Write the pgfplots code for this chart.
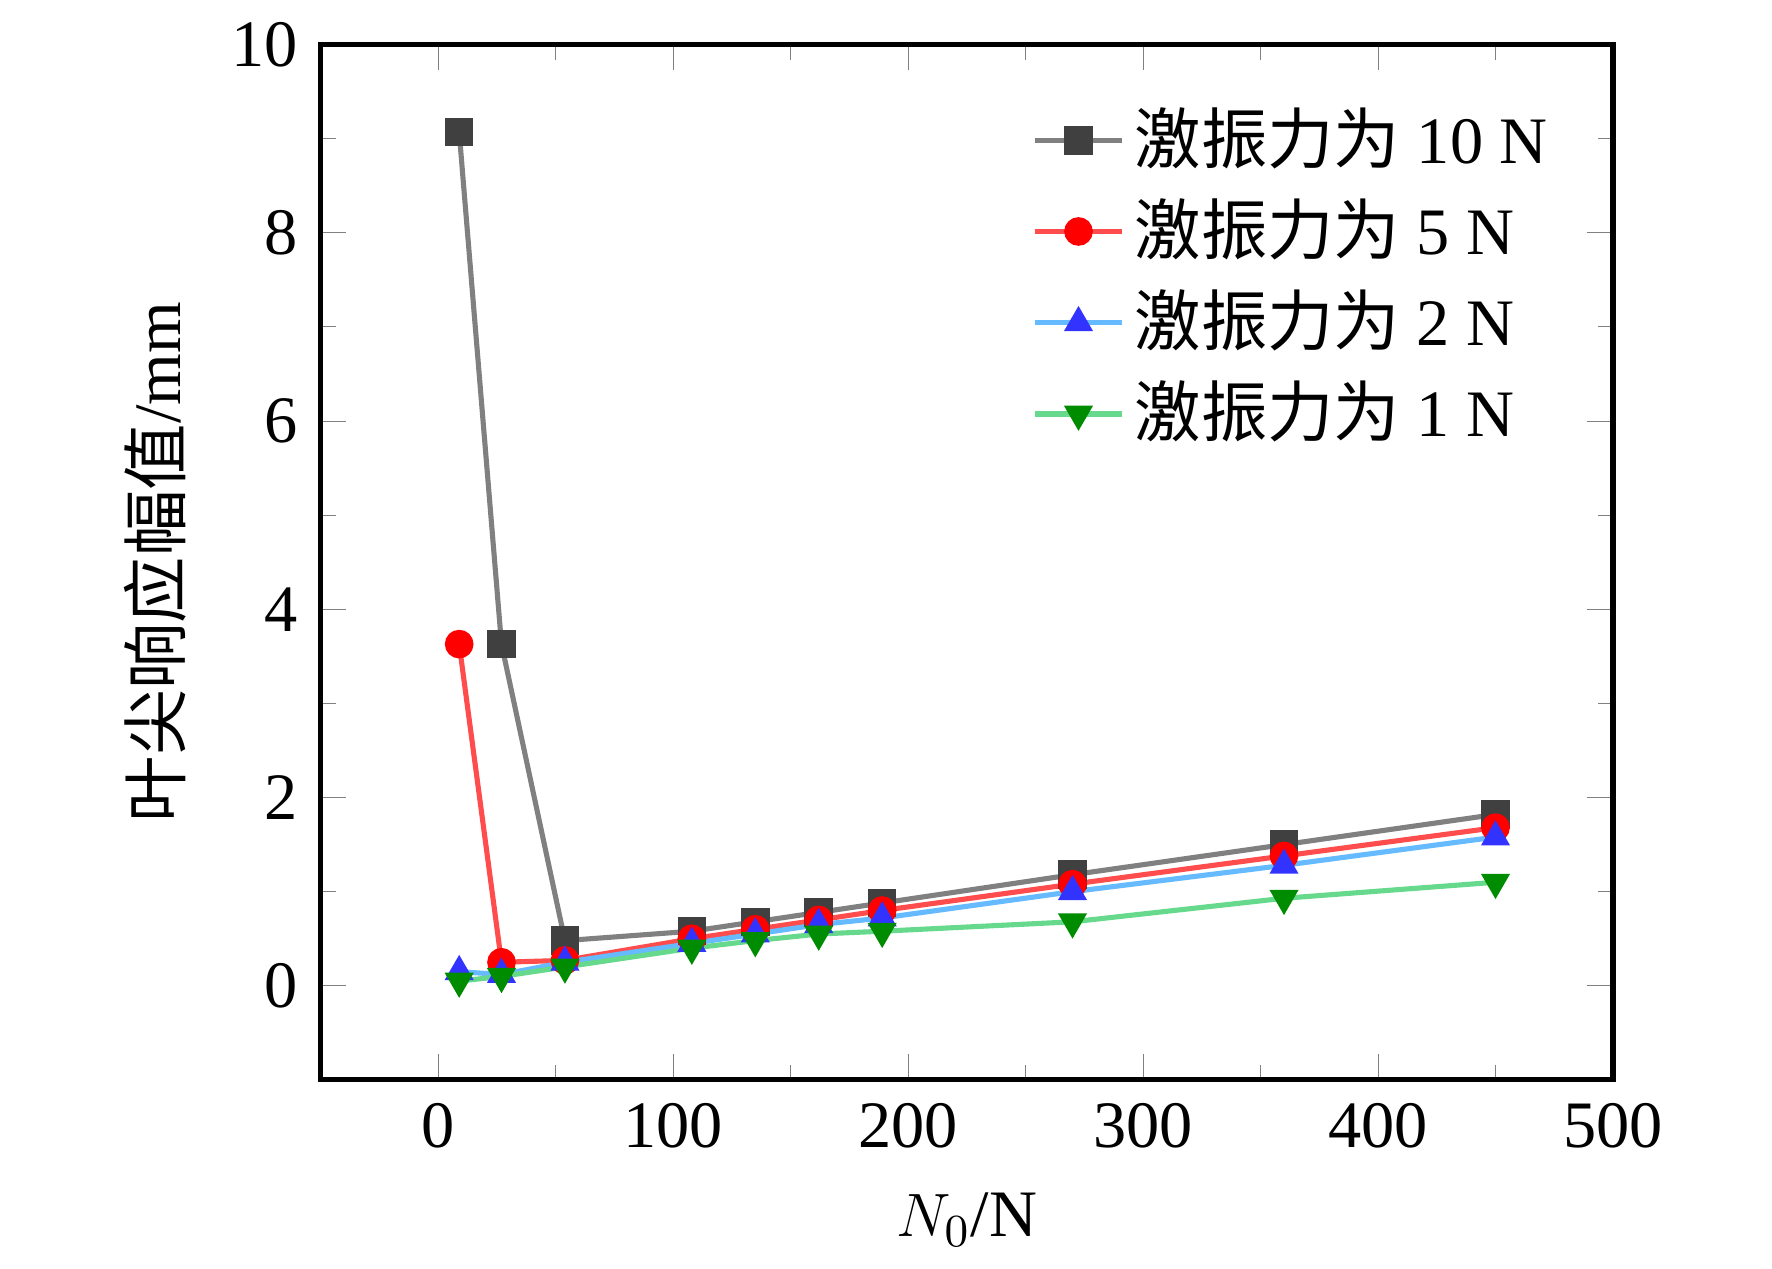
\documentclass[border=0pt]{standalone}
\usepackage{pgfplots}
\pgfplotsset{compat=1.18}
\usepackage{fontspec}
\setmainfont{Liberation Serif}
\newfontfamily\cjk{Noto Sans CJK SC}
\begin{document}
\fontsize{13}{15}\selectfont
\begin{tikzpicture}
\begin{axis}[
  width=8.9cm, height=7.13cm, scale only axis,
  xmin=-50, xmax=500, ymin=-1, ymax=10,
  xtick={0,100,...,500}, minor xtick={50,150,...,450},
  ytick={0,2,...,10}, minor ytick={1,3,...,9},
  tick align=inside, axis line style={line width=1pt},
  major tick length=5pt, minor tick length=3pt,
  /pgf/number format/assume math mode=true,
  tick label style={font=\fontsize{13}{15}\selectfont},
  xlabel={$N_0$/N}, ylabel={\cjk 叶尖响应幅值\rmfamily/mm},
  legend style={draw=none, at={(0.97,0.96)}, anchor=north east, font=\fontsize{13}{15}\selectfont, row sep=1pt},
  legend cell align=left,
  every axis plot/.append style={line width=1pt, mark size=2.3pt},
]
\addplot[color=gray, mark=square*, mark options={fill=black!75, draw=black!75}] coordinates {(9,9.07)(27,3.63)(54,0.48)(108,0.58)(135,0.68)(162,0.78)(189,0.88)(270,1.18)(360,1.50)(450,1.82)};
\addlegendentry{{\cjk 激振力为} 10 N}
\addplot[color=red!70, mark=*, mark options={fill=red, draw=red}] coordinates {(9,3.63)(27,0.25)(54,0.27)(108,0.5)(135,0.6)(162,0.7)(189,0.8)(270,1.08)(360,1.38)(450,1.68)};
\addlegendentry{{\cjk 激振力为} 5 N}
\addplot[color=blue!45!cyan!60, mark=triangle*, mark options={fill=blue!80, draw=blue!80}] coordinates {(9,0.15)(27,0.12)(54,0.25)(108,0.45)(135,0.55)(162,0.65)(189,0.72)(270,1.0)(360,1.28)(450,1.58)};
\addlegendentry{{\cjk 激振力为} 2 N}
\addplot[color=green!50!teal!60, mark=triangle*, mark options={rotate=180, fill=green!55!black, draw=green!55!black}] coordinates {(9,0.05)(27,0.1)(54,0.2)(108,0.4)(135,0.48)(162,0.55)(189,0.58)(270,0.68)(360,0.93)(450,1.1)};
\addlegendentry{{\cjk 激振力为} 1 N}
\end{axis}
\path ([xshift=-0.7cm]current axis.outer west) ([xshift=0.6cm]current axis.outer east);
\end{tikzpicture}
\end{document}
